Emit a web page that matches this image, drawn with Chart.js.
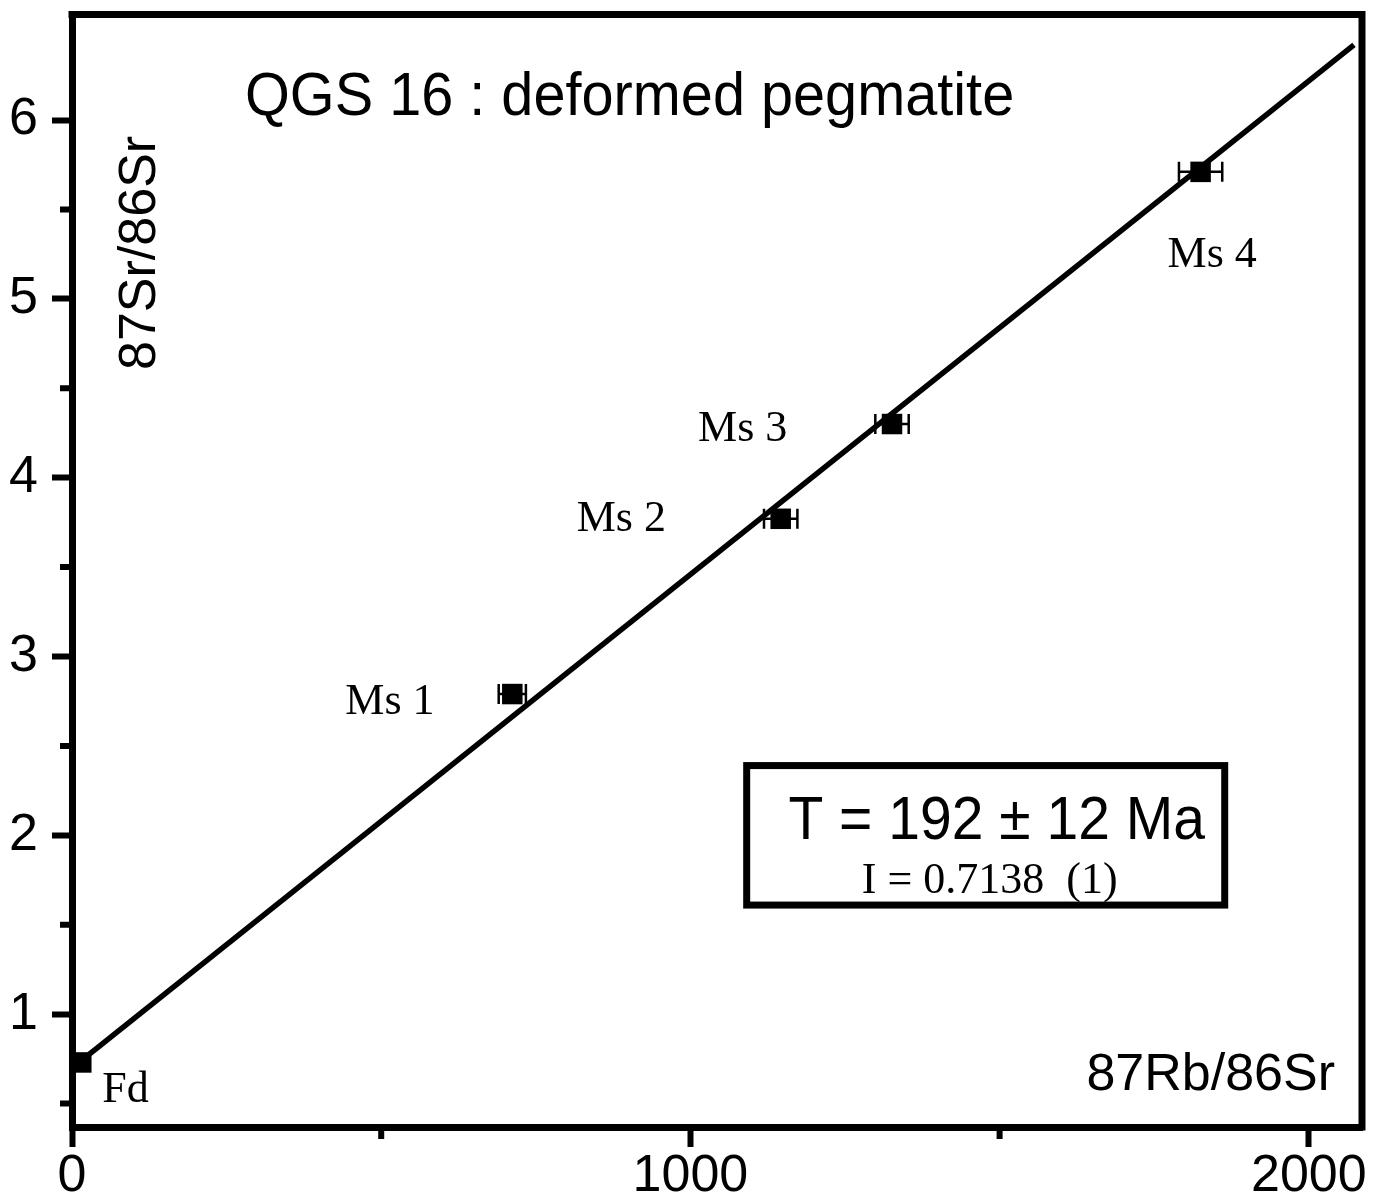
<!DOCTYPE html>
<html>
<head>
<meta charset="utf-8">
<style>
    html, body { margin: 0; padding: 0; background: #ffffff; }
    #caixa { width: 1391px; height: 1203px; }
</style>
<script src="https://cdn.jsdelivr.net/npm/chart.js@4.4.1/dist/chart.umd.min.js"></script>
</head>
<body>
<div id="caixa"><canvas id="grafico" width="1391" height="1203"></canvas></div>
<script>
// samples (87Rb/86Sr vs 87Sr/86Sr)
const amostras = ['Fd', 'Ms 1', 'Ms 2', 'Ms 3', 'Ms 4'];
const rbSr = [15, 712, 1146, 1326, 1825];
const srSr = [0.73, 2.79, 3.77, 4.30, 5.71];
const erroRb = [0, 22, 27, 27, 35];

// isochron line
const retaX = [15, 2073];
const retaY = [0.74, 6.42];

// axis ticks
const ticksX = [0, 1000, 2000];
const ticksXMenores = [500, 1500];
const ticksY = [1, 2, 3, 4, 5, 6];
const ticksYMenores = [0.5, 1.5, 2.5, 3.5, 4.5, 5.5];

// text
const titulo = 'QGS 16 : deformed pegmatite';
const tituloX = '87Rb/86Sr';
const tituloY = '87Sr/86Sr';
const idade = 'T = 192 \u00b1 12 Ma';
const intercepto = 'I = 0.7138  (1)';

// label offsets from each point, in pixels
const rotuloDx = [21, -167, -204, -194, -33];
const rotuloDy = [40, 20, 12, 17, 95];

// result box corners in data units
const caixaX = [1091, 1864];
const caixaY = [1.61, 2.39];

const sans = '"Liberation Sans", Arial, sans-serif';
const serif = '"Liberation Serif", "Times New Roman", serif';

const desenhos = {
    id: 'desenhos',
    afterDatasetsDraw(chart) {
        const ctx = chart.ctx;
        const x = chart.scales.x;
        const y = chart.scales.y;
        const area = chart.chartArea;

        ctx.save();
        ctx.strokeStyle = '#000';
        ctx.fillStyle = '#000';

        // error bars
        ctx.lineWidth = 2.5;
        for (let i = 0; i < rbSr.length; i++) {
            if (!erroRb[i]) continue;
            const x1 = x.getPixelForValue(rbSr[i] - erroRb[i]);
            const x2 = x.getPixelForValue(rbSr[i] + erroRb[i]);
            const py = y.getPixelForValue(srSr[i]);
            ctx.beginPath();
            ctx.moveTo(x1, py); ctx.lineTo(x2, py);
            ctx.moveTo(x1, py - 10); ctx.lineTo(x1, py + 10);
            ctx.moveTo(x2, py - 10); ctx.lineTo(x2, py + 10);
            ctx.stroke();
        }

        // top and right frame
        ctx.lineWidth = 7;
        ctx.beginPath();
        ctx.moveTo(area.left - 3.5, area.top);
        ctx.lineTo(area.right, area.top);
        ctx.lineTo(area.right, area.bottom + 3.5);
        ctx.stroke();

        // minor ticks
        ctx.lineWidth = 6;
        ctx.beginPath();
        ticksXMenores.forEach(v => {
            const px = x.getPixelForValue(v);
            ctx.moveTo(px, area.bottom); ctx.lineTo(px, area.bottom + 12);
        });
        ticksYMenores.forEach(v => {
            const py = y.getPixelForValue(v);
            ctx.moveTo(area.left, py); ctx.lineTo(area.left - 12, py);
        });
        ctx.stroke();

        // sample labels
        ctx.font = '44px ' + serif;
        ctx.textAlign = 'left';
        ctx.textBaseline = 'alphabetic';
        amostras.forEach((nome, i) => {
            ctx.fillText(nome, x.getPixelForValue(rbSr[i]) + rotuloDx[i], y.getPixelForValue(srSr[i]) + rotuloDy[i]);
        });

        // title
        ctx.save();
        ctx.font = '62px ' + sans;
        ctx.translate(245, 115);
        ctx.scale(0.93, 1);
        ctx.fillText(titulo, 0, 0);
        ctx.restore();

        // axis titles inside the frame
        ctx.font = '52px ' + sans;
        ctx.textAlign = 'right';
        ctx.fillText(tituloX, 1335, 1090);
        ctx.save();
        ctx.translate(155, 370);
        ctx.rotate(-Math.PI / 2);
        ctx.textAlign = 'left';
        ctx.fillText(tituloY, 0, 0);
        ctx.restore();

        // result box
        const bx1 = x.getPixelForValue(caixaX[0]);
        const bx2 = x.getPixelForValue(caixaX[1]);
        const by1 = y.getPixelForValue(caixaY[1]);
        const by2 = y.getPixelForValue(caixaY[0]);
        ctx.fillStyle = '#fff';
        ctx.fillRect(bx1, by1, bx2 - bx1, by2 - by1);
        ctx.fillStyle = '#000';
        ctx.lineWidth = 7;
        ctx.strokeRect(bx1, by1, bx2 - bx1, by2 - by1);

        const meio = (bx1 + bx2) / 2;
        ctx.save();
        ctx.font = '62px ' + sans;
        ctx.textAlign = 'center';
        ctx.translate(meio + 11, by1 + 73);
        ctx.scale(0.92, 1);
        ctx.fillText(idade, 0, 0);
        ctx.restore();

        ctx.font = '44px ' + serif;
        ctx.textAlign = 'center';
        ctx.fillText(intercepto, meio + 4, by1 + 127);

        ctx.restore();
    }
};

const ctx = document.getElementById('grafico').getContext('2d');
const grafico = new Chart(ctx, {
    type: 'scatter',
    data: {
        datasets: [
            {
                label: 'isochron',
                data: retaX.map((v, i) => ({ x: v, y: retaY[i] })),
                showLine: true,
                borderColor: '#000',
                borderWidth: 5.5,
                pointRadius: 0,
                clip: false
            },
            {
                label: 'samples',
                data: rbSr.map((v, i) => ({ x: v, y: srSr[i] })),
                pointStyle: 'rect',
                pointRadius: 14.5,
                backgroundColor: '#000',
                borderColor: '#000',
                borderWidth: 0,
                clip: false
            }
        ]
    },
    options: {
        responsive: false,
        animation: false,
        layout: { padding: { top: 12, right: 29, left: 0, bottom: 0 } },
        scales: {
            x: {
                type: 'linear',
                min: 0,
                max: 2086,
                afterBuildTicks: s => { s.ticks = ticksX.map(v => ({ value: v })); },
                afterFit: s => { s.height = 76; s.paddingLeft = 0; s.paddingRight = 0; },
                grid: { drawOnChartArea: false, tickLength: 20, tickWidth: 6, tickColor: '#000' },
                border: { display: true, width: 7, color: '#000' },
                ticks: { color: '#000', padding: -2, maxRotation: 0, callback: v => String(v), font: { family: sans, size: 52 } }
            },
            y: {
                type: 'linear',
                min: 0.369,
                max: 6.59,
                afterBuildTicks: s => { s.ticks = ticksY.map(v => ({ value: v })); },
                afterFit: s => { s.width = 72; s.paddingTop = 0; s.paddingBottom = 0; },
                grid: { drawOnChartArea: false, tickLength: 20, tickWidth: 6, tickColor: '#000' },
                border: { display: true, width: 7, color: '#000' },
                ticks: { color: '#000', padding: 14, callback: v => String(v), font: { family: sans, size: 52 } }
            }
        },
        plugins: {
            legend: { display: false },
            tooltip: { enabled: false }
        }
    },
    plugins: [desenhos]
});
</script>
</body>
</html>
